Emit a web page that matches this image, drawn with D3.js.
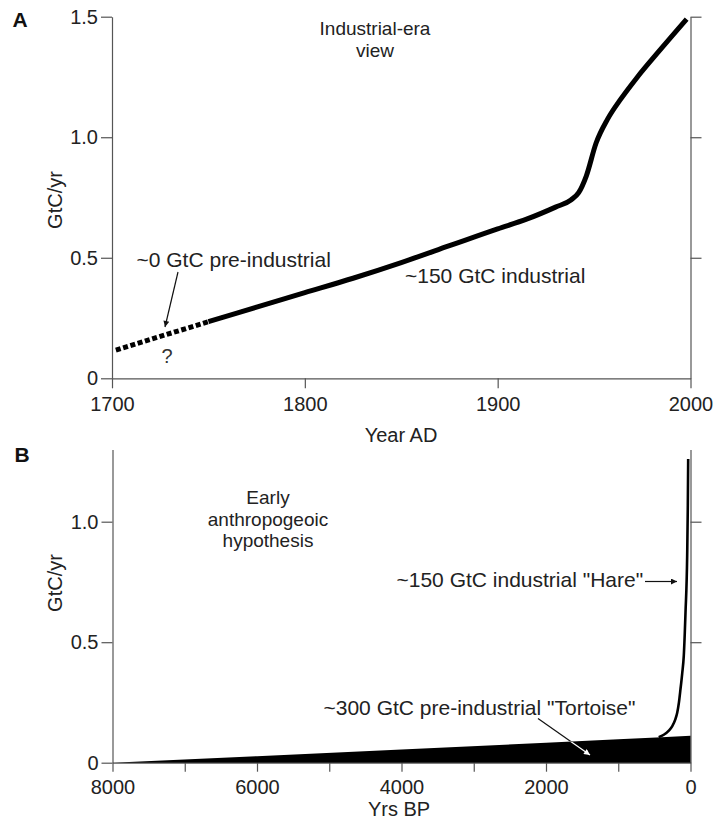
<!DOCTYPE html>
<html>
<head>
<meta charset="utf-8">
<script src="https://cdn.jsdelivr.net/npm/d3@7"></script>
<style>
  html, body { margin: 0; padding: 0; background: #fff; }
  svg { display: block; font-family: "Liberation Sans", Arial, Helvetica, sans-serif; }
  .axis path, .axis line { stroke: #555; stroke-width: 1.2; fill: none; }
  .axis text { fill: #222; font-size: 20px; }
</style>
</head>
<body>
<svg id="chart" width="714" height="822"></svg>
<script>
// ---------- Data: panel A (Industrial-era view) ----------
const preYears = [1702, 1750];
const preValues = [0.117, 0.235];
const indYears = [1750, 1775, 1800, 1825, 1850, 1875, 1900, 1915, 1930, 1938, 1942, 1946, 1951, 1957, 1964, 1972, 1984, 1998];
const indValues = [0.235, 0.295, 0.355, 0.415, 0.48, 0.55, 0.62, 0.66, 0.71, 0.74, 0.77, 0.84, 0.975, 1.075, 1.16, 1.245, 1.36, 1.49];
const xTicksA = [1700, 1800, 1900, 2000];
const yTicksA = [0, 0.5, 1.0, 1.5];
const yLabelsA = ["0", "0.5", "1.0", "1.5"];

// ---------- Data: panel B (Early anthropogenic hypothesis) ----------
const tortYrs = [8000, 6000, 4000, 2000, 1000, 400, 0];
const tortValues = [0, 0.027, 0.055, 0.083, 0.097, 0.106, 0.112];
const hareYrs = [440, 370, 300, 254, 210, 184, 160, 139, 115, 93, 69, 46, 37, 32];
const hareValues = [0.106, 0.116, 0.133, 0.151, 0.18, 0.207, 0.25, 0.304, 0.37, 0.443, 0.624, 0.86, 1.068, 1.26];
const xTicksB = [8000, 7000, 6000, 5000, 4000, 3000, 2000, 1000, 0];
const xLabelsB = ["8000", "", "6000", "", "4000", "", "2000", "", "0"];
const yTicksB = [0, 0.5, 1.0];
const yLabelsB = ["0", "0.5", "1.0"];

const svg = d3.select("#chart");

// defs: arrow markers
const defs = svg.append("defs");
function marker(id, color) {
  defs.append("marker").attr("id", id)
    .attr("viewBox", "0 0 10 10").attr("refX", 10).attr("refY", 5)
    .attr("markerWidth", 9).attr("markerHeight", 6).attr("markerUnits", "userSpaceOnUse")
    .attr("orient", "auto")
    .append("path").attr("d", "M0,0 L10,5 L0,10 Z").attr("fill", color);
}
marker("arrowBlack", "#111");
marker("arrowWhite", "#fff");

// ================= Panel A =================
const xA = d3.scaleLinear().domain([1700, 2000]).range([112, 690.5]);
const yA = d3.scaleLinear().domain([0, 1.5]).range([378.3, 16.7]);
const gA = svg.append("g");

gA.append("g").attr("class", "axis").attr("transform", `translate(${xA(1700)},0)`)
  .call(d3.axisLeft(yA).tickValues(yTicksA).tickSize(11).tickSizeOuter(0).tickPadding(3)
    .tickFormat((d, i) => yLabelsA[i]));
gA.append("g").attr("class", "axis").attr("transform", `translate(${xA(2000)},0)`)
  .call(d3.axisRight(yA).tickValues(yTicksA.slice(1)).tickSize(11).tickSizeOuter(0).tickFormat(""));
gA.append("g").attr("class", "axis").attr("transform", `translate(0,${yA(0)})`)
  .call(d3.axisBottom(xA).tickValues(xTicksA).tickSize(10).tickSizeOuter(0).tickPadding(9)
    .tickFormat(d3.format("d")));

const preData = preYears.map((y, i) => ({ x: y, v: preValues[i] }));
const indData = indYears.map((y, i) => ({ x: y, v: indValues[i] }));
const lineA = d3.line().x(d => xA(d.x)).y(d => yA(d.v)).curve(d3.curveMonotoneX);

gA.append("path").datum(preData).attr("d", lineA)
  .attr("fill", "none").attr("stroke", "#000").attr("stroke-width", 5)
  .attr("stroke-dasharray", "5,2.6").attr("stroke-linecap", "butt");
gA.append("path").datum(indData).attr("d", lineA)
  .attr("fill", "none").attr("stroke", "#000").attr("stroke-width", 5)
  .attr("stroke-linecap", "butt").attr("stroke-linejoin", "round");

// Labels A
svg.append("text").attr("x", 20).attr("y", 27).attr("text-anchor", "middle")
  .attr("font-weight", "bold").attr("font-size", 21).attr("fill", "#111").text("A");
svg.append("text").attr("transform", "translate(61.5,200) rotate(-90)").attr("text-anchor", "middle")
  .attr("font-size", 20).attr("fill", "#222").text("GtC/yr");
svg.append("text").attr("x", 401).attr("y", 441.5).attr("text-anchor", "middle")
  .attr("font-size", 20).attr("fill", "#222").text("Year AD");
const tA = svg.append("text").attr("text-anchor", "middle").attr("font-size", 19).attr("fill", "#222");
tA.append("tspan").attr("x", 375).attr("y", 35).text("Industrial-era");
tA.append("tspan").attr("x", 375).attr("y", 56.5).text("view");
svg.append("text").attr("x", 136.5).attr("y", 266.5).attr("font-size", 21).attr("fill", "#222")
  .text("~0 GtC pre-industrial");
svg.append("text").attr("x", 167).attr("y", 363).attr("text-anchor", "middle").attr("font-size", 20)
  .attr("fill", "#333").text("?");
svg.append("text").attr("x", 405).attr("y", 282.5).attr("font-size", 21).attr("fill", "#222")
  .text("~150 GtC industrial");
svg.append("line").attr("x1", 178).attr("y1", 272).attr("x2", 165).attr("y2", 327)
  .attr("stroke", "#111").attr("stroke-width", 1.2).attr("marker-end", "url(#arrowBlack)");

// ================= Panel B =================
const xB = d3.scaleLinear().domain([8000, 0]).range([112.5, 690.5]);
const yB = d3.scaleLinear().domain([0, 1.3]).range([762.7, 449.4]);
const gB = svg.append("g");

gB.append("g").attr("class", "axis").attr("transform", `translate(${xB(8000)},0)`)
  .call(d3.axisLeft(yB).tickValues(yTicksB).tickSize(11).tickSizeOuter(0).tickPadding(3)
    .tickFormat((d, i) => yLabelsB[i]));
gB.append("g").attr("class", "axis").attr("transform", `translate(${xB(0)},0)`)
  .call(d3.axisRight(yB).tickValues(yTicksB.slice(1)).tickSize(11).tickSizeOuter(0).tickFormat(""));
gB.append("g").attr("class", "axis").attr("transform", `translate(0,${yB(0)})`)
  .call(d3.axisBottom(xB).tickValues(xTicksB).tickSize(9).tickSizeOuter(0).tickPadding(8)
    .tickFormat((d, i) => xLabelsB[i]));

const tortData = tortYrs.map((y, i) => ({ x: y, v: tortValues[i] }));
const hareData = hareYrs.map((y, i) => ({ x: y, v: hareValues[i] }));
const areaB = d3.area().x(d => xB(d.x)).y0(yB(0)).y1(d => yB(d.v));
gB.append("path").datum(tortData).attr("d", areaB).attr("fill", "#000");
defs.append("clipPath").attr("id", "tortClip").append("path").datum(tortData).attr("d", areaB);

gB.append("path").datum(hareData)
  .attr("d", d3.line().x(d => xB(d.x)).y(d => yB(d.v)).curve(d3.curveMonotoneX))
  .attr("fill", "none").attr("stroke", "#000").attr("stroke-width", 2.6).attr("stroke-linecap", "butt");

// Labels B
svg.append("text").attr("x", 22).attr("y", 462).attr("text-anchor", "middle")
  .attr("font-weight", "bold").attr("font-size", 21).attr("fill", "#111").text("B");
svg.append("text").attr("transform", "translate(61.5,583) rotate(-90)").attr("text-anchor", "middle")
  .attr("font-size", 20).attr("fill", "#222").text("GtC/yr");
svg.append("text").attr("x", 399).attr("y", 815.5).attr("text-anchor", "middle")
  .attr("font-size", 20).attr("fill", "#222").text("Yrs BP");
const tB = svg.append("text").attr("text-anchor", "middle").attr("font-size", 19).attr("fill", "#222");
tB.append("tspan").attr("x", 268).attr("y", 504).text("Early");
tB.append("tspan").attr("x", 268).attr("y", 525.5).text("anthropogeoic");
tB.append("tspan").attr("x", 268).attr("y", 547).text("hypothesis");
svg.append("text").attr("x", 396.5).attr("y", 587).attr("font-size", 21).attr("fill", "#222")
  .text("~150 GtC industrial \"Hare\"");
svg.append("line").attr("x1", 645).attr("y1", 581.5).attr("x2", 677).attr("y2", 581.5)
  .attr("stroke", "#111").attr("stroke-width", 1.2).attr("marker-end", "url(#arrowBlack)");
svg.append("text").attr("x", 323.5).attr("y", 715).attr("font-size", 21).attr("fill", "#222")
  .text("~300 GtC pre-industrial \"Tortoise\"");
svg.append("line").attr("x1", 538).attr("y1", 718.5).attr("x2", 590).attr("y2", 755)
  .attr("stroke", "#111").attr("stroke-width", 1.2).attr("marker-end", "url(#arrowBlack)");
svg.append("g").attr("clip-path", "url(#tortClip)")
  .append("line").attr("x1", 538).attr("y1", 718.5).attr("x2", 590).attr("y2", 755)
  .attr("stroke", "#fff").attr("stroke-width", 1.2).attr("marker-end", "url(#arrowWhite)");
</script>
</body>
</html>
